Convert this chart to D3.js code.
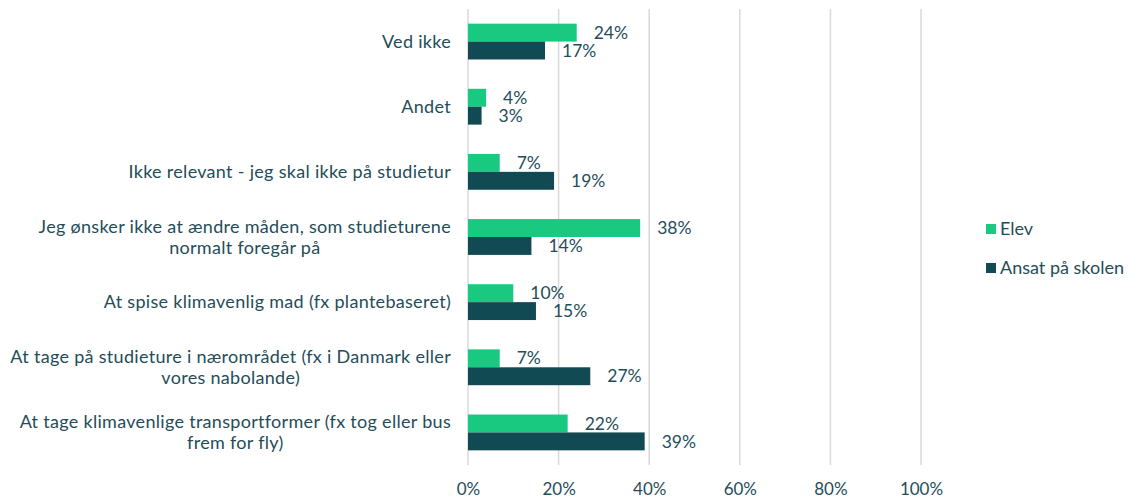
<!DOCTYPE html>
<html>
<head>
<meta charset="utf-8">
<script src="https://cdn.jsdelivr.net/npm/d3@7"></script>
<style>
  html, body { margin: 0; padding: 0; background: #fff; }
  svg text { font-family: Lato, "Open Sans", sans-serif; fill: #1f4d59; }
</style>
</head>
<body>
<svg id="chart" width="1130" height="500"></svg>
<script>
// Survey answers, top to bottom
const categories = [
  ["Ved ikke"],
  ["Andet"],
  ["Ikke relevant - jeg skal ikke på studietur"],
  ["Jeg ønsker ikke at ændre måden, som studieturene", "normalt foregår på"],
  ["At spise klimavenlig mad (fx plantebaseret)"],
  ["At tage på studieture i nærområdet (fx i Danmark eller", "vores nabolande)"],
  ["At tage klimavenlige transportformer (fx tog eller bus", "frem for fly)"]
];
const elev = [24, 4, 7, 38, 10, 7, 22];
const ansat = [17, 3, 19, 14, 15, 27, 39];
const seriesNames = ["Elev", "Ansat på skolen"];
const seriesColors = ["#19c97f", "#124a54"];
const xTicks = [0, 20, 40, 60, 80, 100];

const svg = d3.select("#chart");
const plot = { left: 468, right: 921, top: 9, bottom: 465 };

const x = d3.scaleLinear().domain([0, 100]).range([plot.left, plot.right]);
const y = d3.scaleBand().domain(d3.range(categories.length))
  .range([plot.top, plot.bottom]).paddingInner(0.45).paddingOuter(0.225);
const sub = d3.scaleBand().domain([0, 1]).range([0, y.bandwidth()]);

// Gridlines
svg.append("g").selectAll("line").data(xTicks).join("line")
  .attr("x1", d => x(d)).attr("x2", d => x(d))
  .attr("y1", plot.top).attr("y2", plot.bottom)
  .attr("stroke", "#d9d9d9").attr("stroke-width", 1.5);

// X axis tick labels
const xAxis = d3.axisBottom(x).tickValues(xTicks).tickFormat(d => d + "%").tickSize(0).tickPadding(0);
const gx = svg.append("g").attr("transform", `translate(0,${plot.bottom + 18})`).call(xAxis);
gx.select(".domain").remove();
gx.selectAll("text").attr("font-size", 17).attr("fill", "#1f4d59")
  .attr("font-family", "Lato, sans-serif");

// Bars and value labels
const series = [elev, ansat];
series.forEach((vals, s) => {
  const g = svg.append("g");
  g.selectAll("rect").data(vals).join("rect")
    .attr("x", x(0))
    .attr("y", (d, i) => y(i) + sub(s))
    .attr("width", d => x(d) - x(0))
    .attr("height", sub.bandwidth())
    .attr("fill", seriesColors[s]);
  g.selectAll("text").data(vals).join("text")
    .attr("x", d => x(d) + 17)
    .attr("y", (d, i) => y(i) + sub(s) + sub.bandwidth() / 2)
    .attr("dy", "0.35em")
    .attr("font-size", 17.5)
    .text(d => d + "%");
});

// Category labels: block right-aligned, lines centred within the block
const labelRight = 451;
const lineH = 21.5;
categories.forEach((lines, i) => {
  const g = svg.append("g");
  const texts = lines.map(l => g.append("text").attr("font-size", 18)
    .attr("letter-spacing", 0.3).text(l));
  const widths = texts.map(t => t.node().getComputedTextLength());
  const maxW = d3.max(widths);
  const cy = y(i) + y.bandwidth() / 2;
  const y0 = cy - (lines.length - 1) * lineH / 2;
  texts.forEach((t, k) => {
    t.attr("x", labelRight - maxW / 2).attr("text-anchor", "middle")
     .attr("y", y0 + k * lineH).attr("dy", "0.35em");
  });
});

// Legend
const legend = svg.append("g");
seriesNames.forEach((name, s) => {
  const ly = 229 + s * 39;
  legend.append("rect").attr("x", 986).attr("y", ly - 5).attr("width", 10).attr("height", 10)
    .attr("fill", seriesColors[s]);
  legend.append("text").attr("x", 1000).attr("y", ly).attr("dy", "0.35em")
    .attr("font-size", 18).text(name);
});
</script>
</body>
</html>
